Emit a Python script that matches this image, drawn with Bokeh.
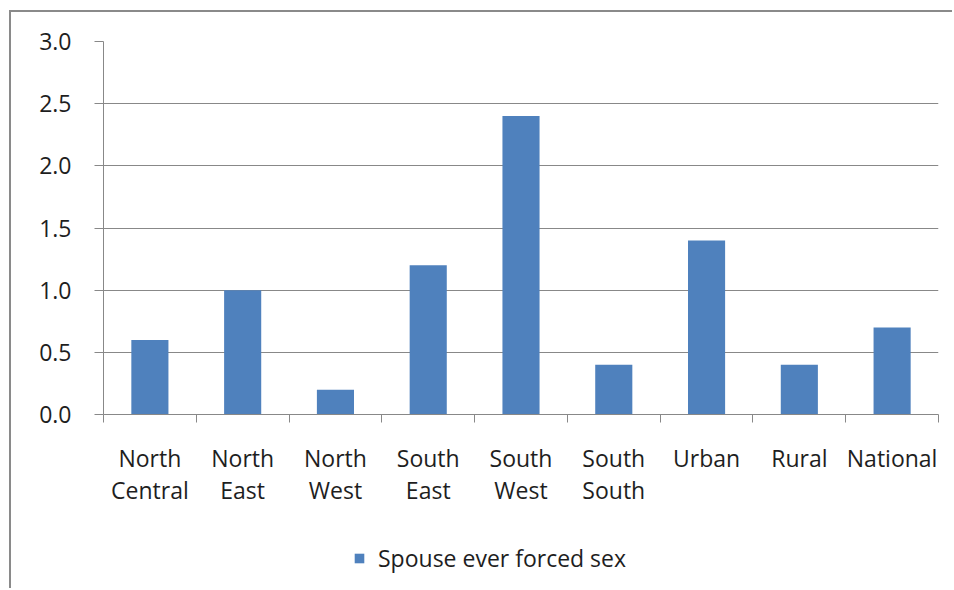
from bokeh.plotting import figure
from bokeh.layouts import column
from bokeh.models import (Range1d, LinearAxis, FixedTicker, Legend, LegendItem,
                          ColumnDataSource, NumeralTickFormatter)
from bokeh.embed import file_html
from bokeh.resources import INLINE

categories = ["North Central", "North East", "North West", "South East", "South West",
              "South South", "Urban", "Rural", "National"]
tick_labels = ["North\nCentral", "North\nEast", "North\nWest", "South\nEast", "South\nWest",
               "South\nSouth", "Urban", "Rural", "National"]
values = [0.6, 1.0, 0.2, 1.2, 2.4, 0.4, 1.4, 0.4, 0.7]
series_name = "Spouse ever forced sex"
y_ticks = [0.0, 0.5, 1.0, 1.5, 2.0, 2.5, 3.0]

FONT = "Open Sans"
TXT = "#1e1e1e"
GRAY = "#888888"
FRAME = "2px solid #8a8a8a"
BAR = "#4F81BD"

n = len(categories)
centers = [i + 0.5 for i in range(n)]
src = ColumnDataSource(dict(x=centers, cat=categories, val=values))
x_rng = Range1d(0, n)

# ---- main chart ----
p = figure(x_range=x_rng, y_range=Range1d(0, 3), width=943, height=518,
           output_backend="svg", toolbar_location=None, x_axis_location=None,
           min_border_left=92, min_border_top=29, min_border_right=16, min_border_bottom=116)
p.styles = {"border-left": FRAME, "border-top": FRAME,
            "margin-left": "9px", "margin-top": "10px"}
p.outline_line_color = None
for g in p.grid:
    if g.dimension == 0:
        g.visible = False

bars = p.vbar(x="x", top="val", width=0.4, source=src, fill_color=BAR, line_color=None)

ya = p.yaxis[0]
ya.ticker = FixedTicker(ticks=y_ticks)
ya.formatter = NumeralTickFormatter(format="0.0")
ya.major_tick_in = 0
ya.major_tick_out = 9
ya.minor_tick_line_color = None
ya.major_tick_line_color = GRAY
ya.axis_line_color = GRAY
ya.major_label_standoff = 23
ya.major_label_text_font = FONT
ya.major_label_text_font_size = "23px"
ya.major_label_text_color = TXT
p.ygrid.grid_line_color = GRAY
p.ygrid.ticker = FixedTicker(ticks=y_ticks)

# x axis: ticks at category boundaries
tick_axis = LinearAxis(ticker=FixedTicker(ticks=list(range(n + 1))),
                       major_tick_in=0, major_tick_out=8, minor_tick_line_color=None,
                       major_tick_line_color=GRAY, axis_line_color=GRAY,
                       major_label_text_alpha=0, major_label_text_font_size="1px",
                       major_label_standoff=0)
p.add_layout(tick_axis, "below")

# x axis: category labels at centers
label_axis = LinearAxis(ticker=FixedTicker(ticks=centers),
                        major_tick_line_color=None, axis_line_color=None,
                        minor_tick_line_color=None, major_label_standoff=13,
                        major_label_text_font=FONT, major_label_text_font_size="23px",
                        major_label_text_color=TXT, major_label_text_line_height=1.03,
                        major_label_overrides={c: t for c, t in zip(centers, tick_labels)})
p.add_layout(label_axis, "below")

# ---- legend strip ----
p2 = figure(x_range=x_rng, y_range=Range1d(10, 11), width=943, height=60,
            output_backend="svg", toolbar_location=None,
            x_axis_location=None, y_axis_location=None, min_border=0)
p2.styles = {"border-left": FRAME, "margin-left": "9px"}
p2.outline_line_color = None
for g in p2.grid:
    g.visible = False
key = p2.vbar(x="x", top="val", width=0, source=src, fill_color=BAR, line_color=None)

legend = Legend(items=[LegendItem(label=series_name, renderers=[key])],
                orientation="horizontal", location=(250, 14),
                glyph_width=12, glyph_height=12, label_standoff=13,
                label_text_font=FONT, label_text_font_size="23px", label_text_color=TXT,
                border_line_color=None, background_fill_alpha=0, margin=0, padding=4)
p2.add_layout(legend, "center")

layout = column(p, p2, spacing=0)
open("out.html", "w").write(file_html(layout, INLINE))
